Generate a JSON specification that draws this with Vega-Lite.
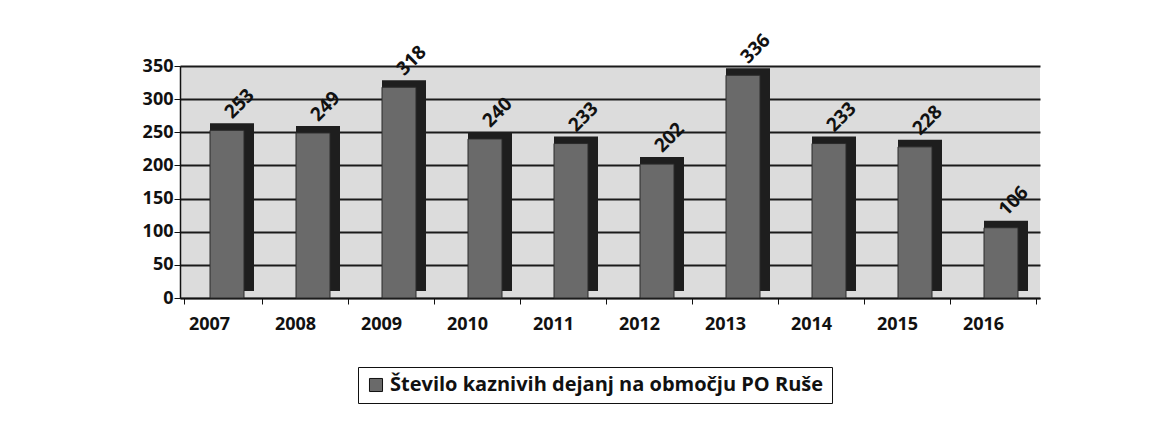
{
  "$schema": "https://vega.github.io/schema/vega-lite/v6.json",
  "width": 860,
  "height": 232,
  "autosize": "none",
  "padding": {"left": 180, "top": 66, "right": 133, "bottom": 134},
  "background": "white",
  "config": {
    "view": {"fill": "#dcdcdc", "stroke": null},
    "font": "Open Sans"
  },
  "data": {
    "values": [
      {"leto": "2007", "stevilo": 253, "serija": "Število kaznivih dejanj na območju PO Ruše"},
      {"leto": "2008", "stevilo": 249, "serija": "Število kaznivih dejanj na območju PO Ruše"},
      {"leto": "2009", "stevilo": 318, "serija": "Število kaznivih dejanj na območju PO Ruše"},
      {"leto": "2010", "stevilo": 240, "serija": "Število kaznivih dejanj na območju PO Ruše"},
      {"leto": "2011", "stevilo": 233, "serija": "Število kaznivih dejanj na območju PO Ruše"},
      {"leto": "2012", "stevilo": 202, "serija": "Število kaznivih dejanj na območju PO Ruše"},
      {"leto": "2013", "stevilo": 336, "serija": "Število kaznivih dejanj na območju PO Ruše"},
      {"leto": "2014", "stevilo": 233, "serija": "Število kaznivih dejanj na območju PO Ruše"},
      {"leto": "2015", "stevilo": 228, "serija": "Število kaznivih dejanj na območju PO Ruše"},
      {"leto": "2016", "stevilo": 106, "serija": "Število kaznivih dejanj na območju PO Ruše"}
    ]
  },
  "encoding": {
    "x": {
      "field": "leto",
      "type": "ordinal",
      "title": null,
      "axis": {
        "labelAngle": 0,
        "labelFont": "Open Sans",
        "labelFontWeight": "bold",
        "labelFontSize": 18,
        "labelColor": "#111",
        "labelPadding": 11,
        "labelOffset": -14,
        "domainColor": "#111",
        "domainWidth": 1.5,
        "tickColor": "#111",
        "tickBand": "extent",
        "tickSize": 6,
        "grid": false
      }
    },
    "y": {
      "field": "stevilo",
      "type": "quantitative",
      "title": null,
      "scale": {"domain": [0, 350]},
      "axis": {
        "values": [0, 50, 100, 150, 200, 250, 300, 350],
        "labelFont": "Open Sans",
        "labelFontWeight": "bold",
        "labelFontSize": 18,
        "labelColor": "#111",
        "labelPadding": 1,
        "domainColor": "#111",
        "domainWidth": 1.5,
        "tickColor": "#111",
        "tickSize": 6,
        "grid": true,
        "gridColor": "#1a1a1a",
        "gridWidth": 2
      }
    }
  },
  "layer": [
    {
      "mark": {"type": "bar", "size": 44, "color": "#1e1e1e", "xOffset": 9, "yOffset": -7}
    },
    {
      "mark": {"type": "bar", "size": 34, "xOffset": 4, "stroke": "#2a2a2a", "strokeWidth": 1},
      "encoding": {
        "color": {
          "field": "serija",
          "type": "nominal",
          "scale": {"range": ["#6a6a6a"]},
          "legend": {
            "title": null,
            "orient": "none",
            "legendX": 178,
            "legendY": 301,
            "symbolType": "square",
            "symbolSize": 170,
            "symbolStrokeColor": "#111",
            "symbolStrokeWidth": 1,
            "labelFont": "Open Sans",
            "labelFontWeight": "bold",
            "labelFontSize": 20,
            "labelColor": "#111",
            "labelLimit": 700,
            "strokeColor": "#111",
            "padding": 8,
            "fillColor": "white"
          }
        }
      }
    },
    {
      "mark": {
        "type": "text",
        "angle": -45,
        "align": "left",
        "baseline": "middle",
        "font": "Open Sans",
        "fontWeight": "bold",
        "fontSize": 19,
        "color": "#111",
        "xOffset": 5,
        "yOffset": -15
      },
      "encoding": {"text": {"field": "stevilo", "type": "quantitative"}}
    }
  ]
}
